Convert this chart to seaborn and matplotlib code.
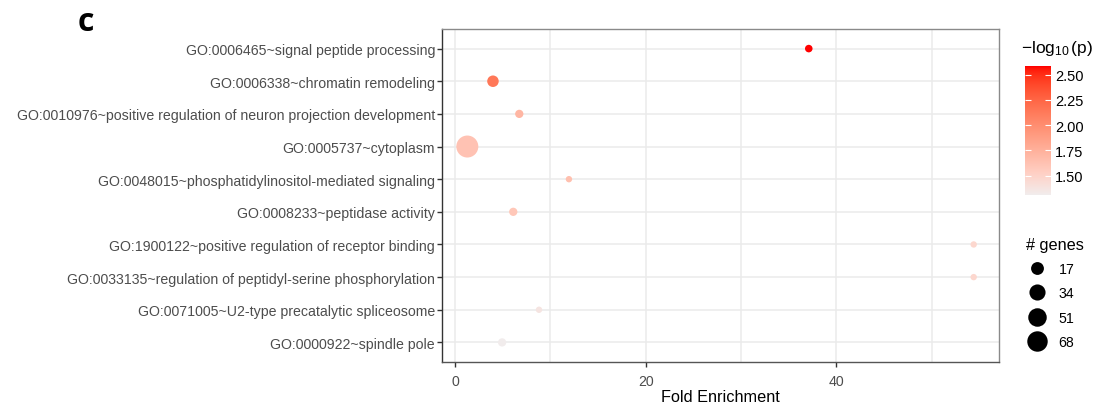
import numpy as np
import pandas as pd
import matplotlib
matplotlib.use("Agg")
import matplotlib.pyplot as plt
import matplotlib.colors as mcolors
from matplotlib.lines import Line2D
import seaborn as sns

# ---------------- data ----------------
terms = [
    "GO:0006465~signal peptide processing",
    "GO:0006338~chromatin remodeling",
    "GO:0010976~positive regulation of neuron projection development",
    "GO:0005737~cytoplasm",
    "GO:0048015~phosphatidylinositol-mediated signaling",
    "GO:0008233~peptidase activity",
    "GO:1900122~positive regulation of receptor binding",
    "GO:0033135~regulation of peptidyl-serine phosphorylation",
    "GO:0071005~U2-type precatalytic spliceosome",
    "GO:0000922~spindle pole",
]
fold_enrichment = [37.1, 3.97, 6.73, 1.28, 11.94, 6.1, 54.4, 54.4, 8.8, 4.93]
neg_log10_p = [2.586, 2.14, 1.71, 1.62, 1.64, 1.59, 1.47, 1.47, 1.37, 1.309]
n_genes = [3, 12, 4, 84, 2, 4, 2, 2, 2, 4]
size_breaks = [17, 34, 51, 68]
color_breaks = [1.50, 1.75, 2.00, 2.25, 2.50]

df = pd.DataFrame({"term": terms, "fold": fold_enrichment,
                   "logp": neg_log10_p, "genes": n_genes})

# ---------------- colour scale (Lab interpolation like ggplot) ----------------
def _srgb_to_lab(c):
    c = np.array(mcolors.to_rgb(c))
    lin = np.where(c <= 0.04045, c / 12.92, ((c + 0.055) / 1.055) ** 2.4)
    M = np.array([[0.4124, 0.3576, 0.1805],
                  [0.2126, 0.7152, 0.0722],
                  [0.0193, 0.1192, 0.9505]])
    xyz = M @ lin / np.array([0.95047, 1.0, 1.08883])
    f = np.where(xyz > (6 / 29) ** 3, np.cbrt(xyz), xyz / (3 * (6 / 29) ** 2) + 4 / 29)
    return np.array([116 * f[1] - 16, 500 * (f[0] - f[1]), 200 * (f[1] - f[2])])

def _lab_to_srgb(lab):
    L, a, b = lab
    fy = (L + 16) / 116
    fx = fy + a / 500
    fz = fy - b / 200
    f = np.array([fx, fy, fz])
    xyz = np.where(f > 6 / 29, f ** 3, 3 * (6 / 29) ** 2 * (f - 4 / 29))
    xyz = xyz * np.array([0.95047, 1.0, 1.08883])
    Minv = np.array([[3.2406, -1.5372, -0.4986],
                     [-0.9689, 1.8758, 0.0415],
                     [0.0557, -0.2040, 1.0570]])
    lin = Minv @ xyz
    lin = np.clip(lin, 0, 1)
    c = np.where(lin <= 0.0031308, 12.92 * lin, 1.055 * lin ** (1 / 2.4) - 0.055)
    return np.clip(c, 0, 1)

low_lab = _srgb_to_lab("#F1ECEC")
high_lab = _srgb_to_lab("#FF0000")
cmap = mcolors.ListedColormap(
    [_lab_to_srgb(low_lab + (high_lab - low_lab) * t) for t in np.linspace(0, 1, 256)])
hue_norm = mcolors.Normalize(vmin=min(neg_log10_p), vmax=max(neg_log10_p))

# size scale: ggplot-like (diameter ~ sqrt), approximated with power norm on area
px2pt = 0.72
s_lo = (6.4 * px2pt) ** 2
s_hi = (22 * px2pt) ** 2
size_norm = mcolors.PowerNorm(gamma=0.75, vmin=min(n_genes), vmax=max(n_genes))

# ---------------- figure ----------------
plt.rcParams["font.family"] = ["Liberation Sans", "DejaVu Sans"]
plt.rcParams["mathtext.fontset"] = "custom"
plt.rcParams["mathtext.rm"] = "Liberation Sans"
plt.rcParams["mathtext.it"] = "Liberation Sans"

fig = plt.figure(figsize=(11.19, 4.10), dpi=100)
ax = fig.add_axes([442 / 1119, 1 - 363 / 410, (999 - 442) / 1119, (363 - 30) / 410])

ax.set_axisbelow(True)
sns.scatterplot(data=df, x="fold", y="term", hue="logp", size="genes",
                palette=cmap, hue_norm=hue_norm, sizes=(s_lo, s_hi),
                size_norm=size_norm, linewidth=0, legend=False, ax=ax, zorder=3)

xmin, xmax = min(fold_enrichment), max(fold_enrichment)
pad = (xmax - xmin) * 0.05
ax.set_xlim(xmin - pad, xmax + pad)
ax.set_ylim(len(terms) - 0.4, -0.6)

ax.set_xticks([0, 20, 40])
ax.set_xticks([10, 30, 50], minor=True)
ax.grid(True, which="major", color="#EBEBEB", linewidth=1.1)
ax.grid(True, which="minor", axis="x", color="#EBEBEB", linewidth=1.1)
ax.set_facecolor("white")
for side, sp in ax.spines.items():
    sp.set_color("#8A8A8A")
    sp.set_linewidth(1.0)
ax.spines["left"].set_color("#333333")
ax.spines["bottom"].set_color("#555555")

ax.tick_params(axis="both", which="major", length=3.5, width=1.0, color="#333333",
               labelsize=10.2, labelcolor="#4D4D4D", pad=1.5)
ax.tick_params(axis="x", which="major", pad=5)
ax.tick_params(axis="x", which="minor", length=0)
ax.set_xlabel("Fold Enrichment", fontsize=11.7, color="black", labelpad=1)
ax.set_ylabel("")

# panel label
fig.text(78 / 1119, 1 - 31 / 410, "c", fontsize=23, fontweight="bold",
         family=["Open Sans", "DejaVu Sans"], ha="left", va="baseline")

# ---------------- colourbar legend ----------------
cax = fig.add_axes([1025 / 1119, 1 - 196 / 410, 26 / 1119, 129 / 410])
sm = plt.cm.ScalarMappable(norm=hue_norm, cmap=cmap)
cb = fig.colorbar(sm, cax=cax, ticks=color_breaks)
cb.outline.set_visible(False)
cb.ax.set_yticklabels([f"{v:.2f}" for v in color_breaks])
cb.ax.tick_params(which="both", direction="in", length=4.5, width=0.8, color="white",
                  left=True, right=True, labelsize=10.5, labelcolor="black", pad=3)
cb.ax.minorticks_off()
fig.text(1021 / 1119, 1 - 49 / 410, r"$-\log_{10}(\mathrm{p})$", fontsize=12.5,
         ha="left", va="center")

# ---------------- size legend ----------------
handles = []
for b in size_breaks:
    s = s_lo + float(size_norm(b)) * (s_hi - s_lo)
    handles.append(Line2D([], [], marker="o", linestyle="", color="black",
                          markeredgewidth=0, markersize=np.sqrt(s)))
leg = fig.legend(handles, [str(b) for b in size_breaks], title="# genes",
                 loc="upper left", bbox_to_anchor=(1016 / 1119, 1 - 228 / 410),
                 frameon=False, fontsize=10.2, title_fontsize=11.7,
                 labelspacing=0.72, handletextpad=0.7, handlelength=1.6,
                 borderpad=0.2)
leg._legend_box.align = "left"

fig.savefig("out.png", dpi=100, facecolor="white")
